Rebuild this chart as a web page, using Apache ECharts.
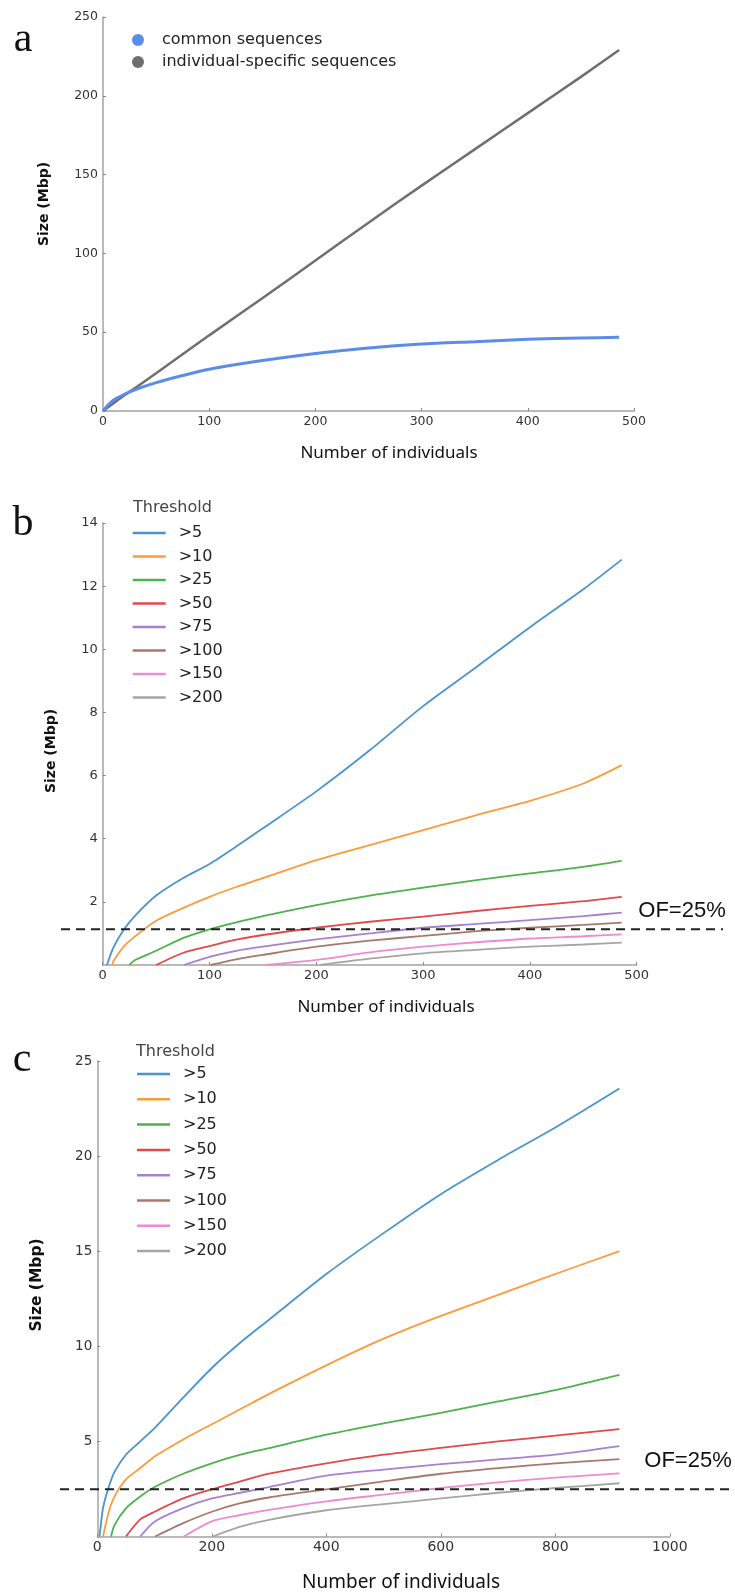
<!DOCTYPE html>
<html>
<head>
<meta charset="utf-8">
<script src="https://cdn.jsdelivr.net/npm/echarts@6/dist/echarts.min.js"></script>
<style>
  html, body { margin: 0; padding: 0; background: #fff; }
  #chart { width: 735px; height: 1595px; }
</style>
</head>
<body>
<div id="chart"></div>
<script>
// ---- panel a: pan-genome size vs number of individuals
const aX = [0, 5, 10, 20, 30, 50, 75, 100, 150, 200, 250, 300, 350, 400, 450, 486]
const aCommon = [0, 4, 7, 10.5, 13.5, 18, 22.5, 26.5, 32, 36.5, 40, 42.5, 44, 45.5, 46.3, 46.8]
const aSpecific = [0, 2.5, 5, 9.8, 14.5, 24, 36, 48, 71.5, 95.5, 119.5, 143, 166, 189, 212, 229]

// ---- thresholds (panels b and c)
const thresholds = ['>5', '>10', '>25', '>50', '>75', '>100', '>150', '>200']
const thresholdColors = ['#4a94cf', '#ff9a3a', '#4db14d', '#e2494b', '#a681d2', '#a8786d', '#ee8ad2', '#a5a5a5']

// panel b: x where each curve leaves zero, then values on the shared x grid
const bX = [10, 20, 30, 50, 75, 100, 125, 150, 200, 250, 300, 350, 400, 450, 486]
const bStart = [4, 9, 25, 50, 76, 101, 152, 203]
const bValues = [
  [0.55, 1.13, 1.55, 2.2, 2.75, 3.2, 3.75, 4.33, 5.5, 6.8, 8.2, 9.44, 10.7, 11.9, 12.84],
  [0.12, 0.6, 0.9, 1.4, 1.8, 2.16, 2.47, 2.75, 3.32, 3.8, 4.27, 4.75, 5.2, 5.75, 6.33],
  [null, null, 0.15, 0.45, 0.85, 1.13, 1.35, 1.55, 1.9, 2.2, 2.45, 2.69, 2.9, 3.11, 3.3],
  [null, null, null, null, 0.38, 0.6, 0.8, 0.95, 1.18, 1.37, 1.53, 1.71, 1.87, 2.02, 2.16],
  [null, null, null, null, null, 0.26, 0.45, 0.58, 0.81, 1.0, 1.18, 1.3, 1.42, 1.55, 1.66],
  [null, null, null, null, null, null, 0.18, 0.32, 0.58, 0.77, 0.92, 1.07, 1.18, 1.27, 1.34],
  [null, null, null, null, null, null, null, null, 0.16, 0.4, 0.58, 0.72, 0.84, 0.91, 0.97],
  [null, null, null, null, null, null, null, null, null, 0.2, 0.37, 0.48, 0.58, 0.65, 0.71]
]
const bOF = 1.13

// panel c
const cX = [10, 20, 30, 50, 75, 100, 150, 200, 250, 300, 400, 500, 600, 700, 800, 912]
const cStart = [4, 10, 24, 50, 75, 101, 151, 202]
const cValues = [
  [1.5, 2.6, 3.4, 4.3, 5.0, 5.7, 7.3, 8.86, 10.2, 11.4, 13.8, 15.95, 18.0, 19.8, 21.5, 23.55],
  [null, 1.3, 2.1, 3.0, 3.6, 4.2, 5.1, 5.9, 6.7, 7.5, 9.0, 10.4, 11.6, 12.7, 13.8, 15.0],
  [null, null, 0.6, 1.48, 2.1, 2.6, 3.3, 3.85, 4.3, 4.65, 5.35, 5.95, 6.5, 7.1, 7.7, 8.5],
  [null, null, null, null, 0.9, 1.3, 2.0, 2.48, 2.9, 3.3, 3.85, 4.3, 4.66, 5.0, 5.3, 5.65],
  [null, null, null, null, null, 0.78, 1.49, 2.0, 2.3, 2.6, 3.2, 3.52, 3.8, 4.05, 4.3, 4.75],
  [null, null, null, null, null, null, 0.7, 1.3, 1.75, 2.05, 2.48, 2.9, 3.3, 3.6, 3.85, 4.07],
  [null, null, null, null, null, null, null, 0.8, 1.13, 1.4, 1.85, 2.2, 2.55, 2.85, 3.1, 3.32],
  [null, null, null, null, null, null, null, null, 0.52, 0.88, 1.38, 1.7, 2.0, 2.3, 2.55, 2.8]
]
const cOF = 2.48

const tickFont = 'DejaVu Sans'

const curve = (xs, start, vals) => {
  const pts = [[start, 0]]
  xs.forEach((x, i) => {
    if (vals[i] != null) pts.push([x, vals[i]])
  })
  return pts
}

const xAxisFor = (gridIndex, max, interval, fontSize) => ({
  type: 'value', gridIndex, min: 0, max, interval,
  splitLine: { show: false },
  axisLine: { lineStyle: { color: '#a3a3a3', width: 1.5 } },
  axisTick: { inside: true, length: 3, lineStyle: { color: '#888' } },
  axisLabel: { color: '#333', fontSize, margin: 4, fontFamily: tickFont, formatter: v => String(v) }
})

const yAxisFor = (gridIndex, max, interval, fontSize, showMin) => ({
  type: 'value', gridIndex, min: 0, max, interval,
  splitLine: { show: false },
  axisLine: { show: true, lineStyle: { color: '#a3a3a3', width: 1.5 } },
  axisTick: { show: true, inside: true, length: 3, lineStyle: { color: '#888' } },
  axisLabel: { color: '#333', fontSize, margin: 5, fontFamily: tickFont, showMinLabel: showMin, formatter: v => String(v) }
})

const thresholdSeries = (idx, xs, starts, values) => thresholds.map((name, i) => ({
  name, type: 'line', xAxisIndex: idx, yAxisIndex: idx,
  data: curve(xs, starts[i], values[i]),
  showSymbol: false, symbol: 'none',
  smooth: 0.25,
  color: thresholdColors[i],
  lineStyle: { width: 1.8 },
  z: 3 + (8 - i)
}))

const thresholdLegend = (left, top, gap) => ({
  data: thresholds, orient: 'vertical', left, top,
  icon: 'rect', itemWidth: 33, itemHeight: 2.5, itemGap: gap, padding: 0,
  selectedMode: false,
  textStyle: { fontSize: 16, color: '#222', fontFamily: tickFont, lineHeight: 16, padding: [0, 0, 0, 8] }
})

const chart = echarts.init(document.getElementById('chart'))

const option = {
  backgroundColor: '#fff',
  animation: false,
  grid: [
    { left: 103, top: 17, width: 531, height: 394, outerBoundsMode: 'none' },
    { left: 102.7, top: 523, width: 534, height: 442, outerBoundsMode: 'none' },
    { left: 97.3, top: 1061, width: 572.5, height: 475.5, outerBoundsMode: 'none' }
  ],
  xAxis: [
    xAxisFor(0, 500, 100, 12.5),
    xAxisFor(1, 500, 100, 13),
    xAxisFor(2, 1000, 200, 14)
  ],
  yAxis: [
    yAxisFor(0, 250, 50, 12.5, true),
    yAxisFor(1, 14, 2, 13, false),
    yAxisFor(2, 25, 5, 13.5, false)
  ],
  legend: [
    {
      data: ['common sequences', 'individual-specific sequences'],
      orient: 'vertical', left: 132, top: 32, icon: 'circle',
      itemWidth: 12, itemHeight: 12, itemGap: 6, padding: 0, selectedMode: false,
      textStyle: { fontSize: 16, color: '#222', fontFamily: tickFont, lineHeight: 16, padding: [0, 0, 0, 13] }
    },
    thresholdLegend(132.7, 525, 7.5),
    thresholdLegend(137, 1066, 9.3)
  ],
  series: [
    {
      name: 'common sequences', type: 'line', xAxisIndex: 0, yAxisIndex: 0,
      data: aX.map((x, i) => [x, aCommon[i]]),
      showSymbol: false, symbol: 'none', smooth: 0.25,
      color: '#5b8de8', lineStyle: { width: 3 }, z: 4
    },
    {
      name: 'individual-specific sequences', type: 'line', xAxisIndex: 0, yAxisIndex: 0,
      data: aX.map((x, i) => [x, aSpecific[i]]),
      showSymbol: false, symbol: 'none', smooth: 0.25,
      color: '#6f6f6f', lineStyle: { width: 2.5 }, z: 3
    },
    ...thresholdSeries(1, bX, bStart, bValues),
    ...thresholdSeries(2, cX, cStart, cValues)
  ]
}

chart.setOption(option)

// overlay texts and the OF=25% reference lines (y taken from the axis scale)
const yB = chart.convertToPixel({ yAxisIndex: 1 }, bOF)
const yC = chart.convertToPixel({ yAxisIndex: 2 }, cOF)

const txt = (x, y, text, font, extra) => ({
  type: 'text', silent: true,
  style: Object.assign({ x, y, text, font, fill: '#111', textAlign: 'center', textVerticalAlign: 'middle' }, extra || {})
})
const vlabel = (x, y, text, font) => ({
  type: 'text', silent: true, x, y, rotation: Math.PI / 2,
  style: { x: 0, y: 0, text, font, fill: '#111', textAlign: 'center', textVerticalAlign: 'middle' }
})
const dashed = (y, x1, x2) => ({
  type: 'line', silent: true, z: 20,
  shape: { x1, y1: y, x2, y2: y },
  style: { stroke: '#222', lineWidth: 2, lineDash: [9, 6] }
})

const letterFont = '42px "Liberation Serif"'
const nameFont = '17px "Noto Sans"'

chart.setOption({
  graphic: [
    txt(23, 40, 'a', letterFont),
    txt(23, 524, 'b', letterFont),
    txt(22, 1060, 'c', letterFont),
    vlabel(44, 204, 'Size (Mbp)', 'bold 14px "DejaVu Sans"'),
    vlabel(51, 751, 'Size (Mbp)', 'bold 14px "DejaVu Sans"'),
    vlabel(37, 1285, 'Size (Mbp)', 'bold 15.5px "DejaVu Sans"'),
    txt(389, 453, 'Number of individuals', nameFont),
    txt(386, 1007, 'Number of individuals', nameFont),
    txt(401, 1583, 'Number of individuals', '19px "Noto Sans"'),
    txt(133, 508, 'Threshold', '16px "DejaVu Sans"', { textAlign: 'left', fill: '#444' }),
    txt(136, 1052, 'Threshold', '16px "DejaVu Sans"', { textAlign: 'left', fill: '#444' }),
    dashed(yB, 61, 723),
    dashed(yC, 60, 730),
    txt(682, 911, 'OF=25%', '22px "Liberation Sans"'),
    txt(688, 1461, 'OF=25%', '22px "Liberation Sans"')
  ]
})

window.addEventListener('resize', () => chart.resize())
</script>
</body>
</html>
